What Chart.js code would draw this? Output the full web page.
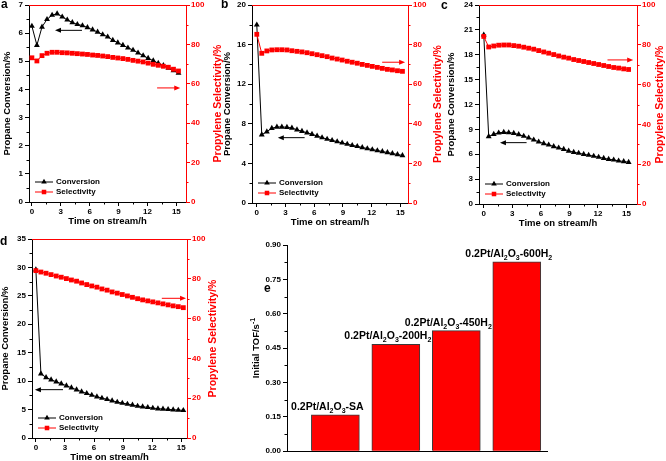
<!DOCTYPE html>
<html lang="en">
<head>
<meta charset="UTF-8">
<title>Propane dehydrogenation over Pt/Al2O3</title>
<script src="https://cdn.jsdelivr.net/npm/chart.js@4"></script>
<style>
  html, body { margin: 0; padding: 0; background: #fff; }
  #fig { position: relative; width: 666px; height: 461px; overflow: hidden; }
  #fig canvas { position: absolute; }
  .tag { position: absolute; font: bold 12px/12px "Liberation Sans", Arial, sans-serif; color: #000; }
</style>
</head>
<body>
<div id="fig">
  <canvas id="chart-a"></canvas>
  <canvas id="chart-b"></canvas>
  <canvas id="chart-c"></canvas>
  <canvas id="chart-d"></canvas>
  <canvas id="chart-e"></canvas>
  <div class="tag" style="left:1px;top:-2px">a</div>
  <div class="tag" style="left:221px;top:-2px">b</div>
  <div class="tag" style="left:441px;top:-1px">c</div>
  <div class="tag" style="left:0px;top:235px">d</div>
  <div class="tag" style="left:264px;top:282px">e</div>
</div>

<script>
// time on stream (h), same for panels a-d
const timeH = [0, 0.52, 1.05, 1.57, 2.1, 2.62, 3.15, 3.67, 4.2, 4.72, 5.25, 5.77, 6.3, 6.82, 7.35,
               7.87, 8.4, 8.92, 9.45, 9.97, 10.5, 11.02, 11.55, 12.07, 12.6, 13.12, 13.65, 14.17, 14.7, 15.22];

// propane conversion (%) and propylene selectivity (%)
const convA = [6.25, 5.57, 6.22, 6.49, 6.64, 6.69, 6.58, 6.47, 6.38, 6.31, 6.27, 6.2, 6.12, 6.04, 5.95,
               5.87, 5.75, 5.66, 5.57, 5.48, 5.4, 5.3, 5.2, 5.11, 5.02, 4.93, 4.85, 4.76, 4.67, 4.58];
const selA  = [73.2, 71.6, 74.3, 75.5, 76.0, 76.0, 75.8, 75.7, 75.5, 75.3, 75.1, 74.9, 74.6, 74.4, 74.1,
               73.8, 73.4, 73.1, 72.8, 72.4, 71.9, 71.5, 71.1, 70.5, 69.9, 69.4, 68.9, 68.4, 67.4, 66.5];

const convB = [18.0, 6.9, 7.2, 7.55, 7.68, 7.68, 7.65, 7.58, 7.4, 7.25, 7.1, 6.95, 6.77, 6.6, 6.46,
               6.33, 6.2, 6.07, 5.95, 5.83, 5.72, 5.61, 5.5, 5.4, 5.3, 5.2, 5.1, 5.0, 4.9, 4.8];
const selB  = [85.2, 75.6, 76.8, 77.3, 77.4, 77.4, 77.3, 76.9, 76.6, 76.3, 75.9, 75.4, 74.9, 74.4, 73.9,
               73.2, 72.7, 72.2, 71.6, 71.1, 70.6, 70.0, 69.5, 69.0, 68.5, 68.0, 67.5, 67.2, 66.8, 66.5];

const convC = [20.4, 8.14, 8.42, 8.58, 8.66, 8.62, 8.54, 8.38, 8.18, 7.98, 7.74, 7.5, 7.3, 7.13, 6.94,
               6.77, 6.61, 6.4, 6.25, 6.13, 6.0, 5.89, 5.77, 5.65, 5.52, 5.4, 5.32, 5.2, 5.13, 5.04];
const selC  = [84.2, 78.9, 79.4, 79.8, 79.9, 79.9, 79.6, 79.3, 78.8, 78.3, 77.8, 77.1, 76.4, 75.8, 75.1,
               74.4, 73.8, 73.3, 72.6, 72.1, 71.6, 71.1, 70.6, 70.1, 69.6, 69.1, 68.6, 68.3, 67.9, 67.6];

const convD = [29.6, 11.3, 10.65, 10.25, 9.9, 9.55, 9.2, 8.84, 8.49, 8.14, 7.84, 7.55, 7.26, 7.03, 6.79,
               6.56, 6.32, 6.15, 5.97, 5.8, 5.62, 5.5, 5.38, 5.27, 5.15, 5.1, 5.03, 4.97, 4.92, 4.85];
const selD  = [84.1, 83.4, 82.8, 82.1, 81.4, 80.8, 80.1, 79.4, 78.8, 77.9, 77.1, 76.4, 75.8, 74.9, 74.3,
               73.4, 72.8, 72.1, 71.4, 70.7, 70.0, 69.4, 68.9, 68.4, 67.9, 67.4, 66.9, 66.4, 66.0, 65.5];

// arrows: [from t, to t, value] -> first on conversion axis, second on selectivity axis
const arrowsA = [[5.2, 2.4, 6.1], [13.0, 15.4, 57.9]];
const arrowsB = [[5.0, 2.2, 6.6], [13.1, 15.5, 71.1]];
const arrowsC = [[4.5, 1.7, 7.4], [13.0, 15.7, 72.4]];
const arrowsD = [[2.8, -0.1, 8.5], [13.0, 15.5, 70.2]];

// panel e
const tofCatalysts = ['0.2Pt/Al_2O_3-SA', '0.2Pt/Al_2O_3-200H_2', '0.2Pt/Al_2O_3-450H_2', '0.2Pt/Al_2O_3-600H_2'];
const tofValues = [0.159, 0.467, 0.526, 0.826];

const RED = '#ff0000';
const FONT = '"Liberation Sans", Arial, Helvetica, sans-serif';
const TOP_PAD = 8, RIGHT_W = 44, BOTTOM_H = 30;

Chart.defaults.font.family = FONT;
Chart.defaults.font.size = 8;
Chart.defaults.font.weight = 'bold';
Chart.defaults.color = '#000';
Chart.defaults.animation = false;
Chart.defaults.responsive = false;
Chart.defaults.plugins.legend.display = false;
Chart.defaults.plugins.tooltip.enabled = false;

// text with _x subscripts and ^x superscripts
function drawRich(ctx, str, x, y, size, align) {
  const segs = [];
  for (let i = 0; i < str.length; i++) {
    const c = str[i];
    if ((c === '_' || c === '^') && i + 1 < str.length) {
      segs.push({ t: str[i + 1], k: c === '_' ? 'sub' : 'sup' });
      i++;
    } else {
      const last = segs[segs.length - 1];
      if (last && last.k === 'n') last.t += c; else segs.push({ t: c, k: 'n' });
    }
  }
  const small = Math.round(size * 0.7);
  let total = 0;
  segs.forEach(s => {
    ctx.font = `bold ${s.k === 'n' ? size : small}px ${FONT}`;
    s.w = ctx.measureText(s.t).width;
    total += s.w;
  });
  let cx = align === 'center' ? x - total / 2 : x;
  ctx.textAlign = 'left';
  ctx.textBaseline = 'alphabetic';
  segs.forEach(s => {
    ctx.font = `bold ${s.k === 'n' ? size : small}px ${FONT}`;
    const dy = s.k === 'sub' ? size * 0.3 : (s.k === 'sup' ? -size * 0.4 : 0);
    ctx.fillText(s.t, cx, y + dy);
    cx += s.w;
  });
}

function minorTicks(ctx, scale, half, side, color) {
  const a = scale.chart.chartArea;
  ctx.strokeStyle = color;
  ctx.lineWidth = 1;
  ctx.beginPath();
  for (let k = Math.ceil(scale.min / half - 1e-9); k * half <= scale.max + 1e-9; k++) {
    if (k % 2 === 0) continue;
    const p = Math.round(scale.getPixelForValue(k * half)) + 0.5;
    if (side === 'bottom') { ctx.moveTo(p, a.bottom); ctx.lineTo(p, a.bottom + 2.5); }
    else if (side === 'left') { ctx.moveTo(a.left, p); ctx.lineTo(a.left - 2.5, p); }
    else { ctx.moveTo(a.right, p); ctx.lineTo(a.right + 2.5, p); }
  }
  ctx.stroke();
}

function arrow(ctx, x0, y0, x1, y1, color) {
  const ang = Math.atan2(y1 - y0, x1 - x0);
  ctx.strokeStyle = color;
  ctx.fillStyle = color;
  ctx.lineWidth = 1;
  ctx.beginPath();
  ctx.moveTo(x0, y0);
  ctx.lineTo(x1 - 4 * Math.cos(ang), y1 - 4 * Math.sin(ang));
  ctx.stroke();
  ctx.beginPath();
  ctx.moveTo(x1, y1);
  ctx.lineTo(x1 - 6 * Math.cos(ang) + 2.5 * Math.sin(ang), y1 - 6 * Math.sin(ang) - 2.5 * Math.cos(ang));
  ctx.lineTo(x1 - 6 * Math.cos(ang) - 2.5 * Math.sin(ang), y1 - 6 * Math.sin(ang) + 2.5 * Math.cos(ang));
  ctx.closePath();
  ctx.fill();
}

// frame, minor ticks, arrows, legend and right title for panels a-d
const panelDecor = {
  id: 'panelDecor',
  afterDatasetsDraw(chart, args, opts) {
    const ctx = chart.ctx;
    const a = chart.chartArea;
    const { x, y, y2 } = chart.scales;
    ctx.save();
    // red top line
    ctx.strokeStyle = RED;
    ctx.lineWidth = 1;
    ctx.beginPath();
    ctx.moveTo(a.left, a.top + 0.5);
    ctx.lineTo(a.right, a.top + 0.5);
    ctx.stroke();

    minorTicks(ctx, x, 1.5, 'bottom', '#000');
    minorTicks(ctx, y, opts.convStep / 2, 'left', '#000');
    minorTicks(ctx, y2, 10, 'right', RED);

    // arrows pointing to the axis of each series
    const [l, r] = opts.arrows;
    arrow(ctx, x.getPixelForValue(l[0]), y.getPixelForValue(l[2]),
               x.getPixelForValue(l[1]), y.getPixelForValue(l[2]), '#000');
    arrow(ctx, x.getPixelForValue(r[0]), y2.getPixelForValue(r[2]),
               x.getPixelForValue(r[1]), y2.getPixelForValue(r[2]), RED);

    // legend in the lower left corner
    chart.data.datasets.forEach((ds, i) => {
      const ly = a.bottom - 20 + i * 10;
      const lx = a.left + 6;
      ctx.strokeStyle = ds.borderColor;
      ctx.fillStyle = ds.borderColor;
      ctx.lineWidth = 1;
      ctx.beginPath();
      ctx.moveTo(lx, ly);
      ctx.lineTo(lx + 18, ly);
      ctx.stroke();
      Chart.helpers.drawPoint(ctx, { pointStyle: ds.pointStyle, rotation: 0, radius: 3.2, borderWidth: 0 }, lx + 9, ly);
      ctx.fillStyle = '#000';
      ctx.font = `bold 8px ${FONT}`;
      ctx.textAlign = 'left';
      ctx.textBaseline = 'middle';
      ctx.fillText(ds.label, lx + 21, ly);
    });

    // right axis title, reading bottom to top
    ctx.translate(a.right + opts.rTitleOff, (a.top + a.bottom) / 2);
    ctx.rotate(-Math.PI / 2);
    ctx.fillStyle = RED;
    ctx.font = `bold 10.5px ${FONT}`;
    ctx.textAlign = 'center';
    ctx.textBaseline = 'middle';
    ctx.fillText('Propylene Selectivity/%', 0, 0);
    ctx.restore();
  }
};

const tickGrid = color => ({ display: true, drawOnChartArea: false, drawTicks: true, tickLength: 4, color, lineWidth: 1 });

const panels = [
  { id: 'chart-a', conv: convA, sel: selA, arrows: arrowsA, area: [29, 5, 186, 202], leftW: 29,
    convMax: 7, convStep: 1, xMin: -0.3, xMax: 16, rTitleOff: 32 },
  { id: 'chart-b', conv: convB, sel: selB, arrows: arrowsB, area: [252, 5, 408, 203], leftW: 32,
    convMax: 20, convStep: 4, xMin: -0.5, xMax: 15.8, rTitleOff: 30 },
  { id: 'chart-c', conv: convC, sel: selC, arrows: arrowsC, area: [479, 5, 637, 204], leftW: 35,
    convMax: 24, convStep: 3, xMin: -0.5, xMax: 16.1, rTitleOff: 23 },
  { id: 'chart-d', conv: convD, sel: selD, arrows: arrowsD, area: [32, 239, 187, 438], leftW: 34,
    convMax: 35, convStep: 5, xMin: -0.4, xMax: 15.6, rTitleOff: 26 }
];

panels.forEach(p => {
  const [l, t, r, b] = p.area;
  const cv = document.getElementById(p.id);
  cv.width = p.leftW + (r - l) + RIGHT_W;
  cv.height = TOP_PAD + (b - t) + BOTTOM_H;
  cv.style.left = (l - p.leftW) + 'px';
  cv.style.top = (t - TOP_PAD) + 'px';

  new Chart(cv, {
    type: 'line',
    data: {
      datasets: [
        { label: 'Conversion', data: timeH.map((h, i) => ({ x: h, y: p.conv[i] })), yAxisID: 'y', order: 1,
          borderColor: '#000', backgroundColor: '#000', borderWidth: 1,
          pointStyle: 'triangle', pointRadius: 3.4, pointBorderWidth: 0, pointBackgroundColor: '#000' },
        { label: 'Selectivity', data: timeH.map((h, i) => ({ x: h, y: p.sel[i] })), yAxisID: 'y2', order: 0,
          borderColor: RED, backgroundColor: RED, borderWidth: 1,
          pointStyle: 'rect', pointRadius: 3.4, pointBorderWidth: 0, pointBackgroundColor: RED }
      ]
    },
    options: {
      layout: { padding: { top: TOP_PAD, left: 0, right: 0, bottom: 0 } },
      scales: {
        x: {
          type: 'linear', min: p.xMin, max: p.xMax,
          ticks: { stepSize: 3, includeBounds: false, padding: 1, maxRotation: 0 },
          grid: tickGrid('#000'), border: { color: '#000' },
          title: { display: true, text: 'Time on stream/h', font: { size: 9.5 }, padding: { top: 0, bottom: 5 } },
          afterFit: s => { s.height = BOTTOM_H; }
        },
        y: {
          position: 'left', min: 0, max: p.convMax,
          ticks: { stepSize: p.convStep, padding: 2 },
          grid: tickGrid('#000'), border: { color: '#000' },
          title: { display: true, text: 'Propane Conversion/%', font: { size: 9.5 }, padding: { top: 2, bottom: 0 } },
          afterFit: s => { s.width = p.leftW; }
        },
        y2: {
          position: 'right', min: 0, max: 100,
          ticks: { stepSize: 20, padding: 1, color: RED },
          grid: tickGrid(RED), border: { color: RED },
          afterFit: s => { s.width = RIGHT_W; }
        }
      },
      plugins: {
        panelDecor: { arrows: p.arrows, convStep: p.convStep, rTitleOff: p.rTitleOff }
      }
    },
    plugins: [panelDecor]
  });
});

// panel e: initial TOF bars
const tofDecor = {
  id: 'tofDecor',
  afterDatasetsDraw(chart) {
    const ctx = chart.ctx;
    const a = chart.chartArea;
    ctx.save();
    minorTicks(ctx, chart.scales.y, 0.075, 'left', '#000');
    ctx.fillStyle = '#000';
    chart.getDatasetMeta(0).data.forEach((bar, i) => {
      drawRich(ctx, tofCatalysts[i], bar.x - 8, bar.y - 5, 10.5, 'center');
    });
    ctx.translate(a.left - 32, (a.top + a.bottom) / 2);
    ctx.rotate(-Math.PI / 2);
    drawRich(ctx, 'Initial TOF/s^-^1', 0, 3.5, 9.5, 'center');
    ctx.restore();
  }
};

(function () {
  const area = [287, 245, 547, 455];
  const leftW = 40, rightExtra = 40;
  const cv = document.getElementById('chart-e');
  cv.width = leftW + (area[2] - area[0]) + rightExtra;
  cv.height = TOP_PAD + (area[3] - area[1]) + 3;
  cv.style.left = (area[0] - leftW) + 'px';
  cv.style.top = (area[1] - TOP_PAD) + 'px';

  new Chart(cv, {
    type: 'bar',
    data: {
      datasets: [{
        label: 'Initial TOF',
        data: tofCatalysts.map((c, i) => ({ x: i + 1, y: tofValues[i] })),
        backgroundColor: RED, borderColor: '#3a3a3a', borderWidth: 1, barThickness: 48
      }]
    },
    options: {
      layout: { padding: { top: TOP_PAD, left: 0, right: rightExtra, bottom: 3 } },
      scales: {
        x: {
          type: 'linear', min: 0.2, max: 4.5, offset: false,
          ticks: { display: false }, grid: { display: false }, border: { color: '#000' },
          afterFit: s => { s.height = 0; }
        },
        y: {
          min: 0, max: 0.9,
          ticks: { stepSize: 0.15, padding: 2, callback: v => v.toFixed(2) },
          grid: tickGrid('#000'), border: { color: '#000' },
          afterFit: s => { s.width = leftW; }
        }
      }
    },
    plugins: [tofDecor]
  });
})();
</script>
</body>
</html>
